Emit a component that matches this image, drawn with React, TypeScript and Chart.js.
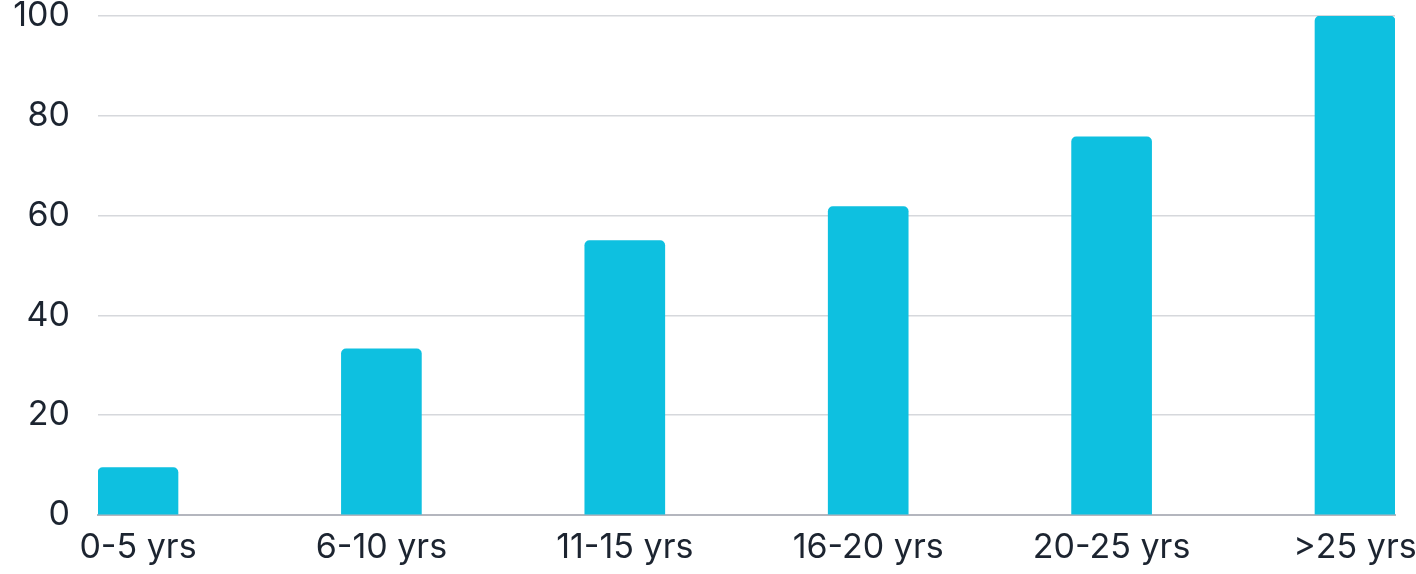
import React, { useEffect, useRef } from "react";
import { Chart, registerables } from "chart.js";

Chart.register(...registerables);

const categories: string[] = ["0-5 yrs", "6-10 yrs", "11-15 yrs", "16-20 yrs", "20-25 yrs", ">25 yrs"];
const values: number[] = [9.5, 33.3, 55, 61.8, 75.8, 100];
const yTicks: number[] = [0, 20, 40, 60, 80, 100];

export default function App() {
  const ref = useRef<HTMLCanvasElement | null>(null);

  useEffect(() => {
    if (!ref.current) return;
    const font = { family: "Inter, 'Open Sans', sans-serif", size: 34 };
    const chart = new Chart(ref.current, {
      type: "bar",
      data: {
        datasets: [
          {
            data: values.map((v, i) => ({ x: i, y: v })),
            backgroundColor: "#0EC0E0",
            borderRadius: 5,
            borderSkipped: "start",
            barThickness: 80,
          },
        ],
      },
      options: {
        animation: false,
        responsive: true,
        maintainAspectRatio: false,
        layout: { padding: { top: 16, right: 21, left: 0, bottom: 0 } },
        plugins: { legend: { display: false }, tooltip: { enabled: false } },
        scales: {
          x: {
            type: "linear",
            offset: false,
            min: -0.1643,
            max: 5.1643,
            afterBuildTicks: (scale: any) => {
              scale.ticks = categories.map((_, i) => ({ value: i }));
            },
            afterFit: (scale: any) => {
              scale.height = 59;
              scale.paddingLeft = 0;
              scale.paddingRight = 0;
            },
            ticks: {
              autoSkip: false,
              maxRotation: 0,
              padding: 12,
              color: "#1c2430",
              font,
              callback: (v: any) => categories[Math.round(Number(v))] ?? "",
            },
            grid: { display: false, drawTicks: false, offset: false },
            border: { display: true, color: "#b4b6be", width: 2 },
          },
          y: {
            min: 0,
            max: 100,
            afterBuildTicks: (scale: any) => {
              scale.ticks = yTicks.map((v) => ({ value: v }));
            },
            afterFit: (scale: any) => {
              scale.width = 98;
              scale.paddingTop = 0;
              scale.paddingBottom = 0;
            },
            ticks: { padding: 28, color: "#1c2430", font },
            grid: { color: "#d6d8dc", lineWidth: 1.5, drawTicks: false },
            border: { display: false },
          },
        },
      },
    } as any);
    return () => chart.destroy();
  }, []);

  return (
    <div style={{ position: "fixed", left: 0, top: 0, width: 1416, height: 574, background: "#fff" }}>
      <canvas ref={ref} />
    </div>
  );
}
